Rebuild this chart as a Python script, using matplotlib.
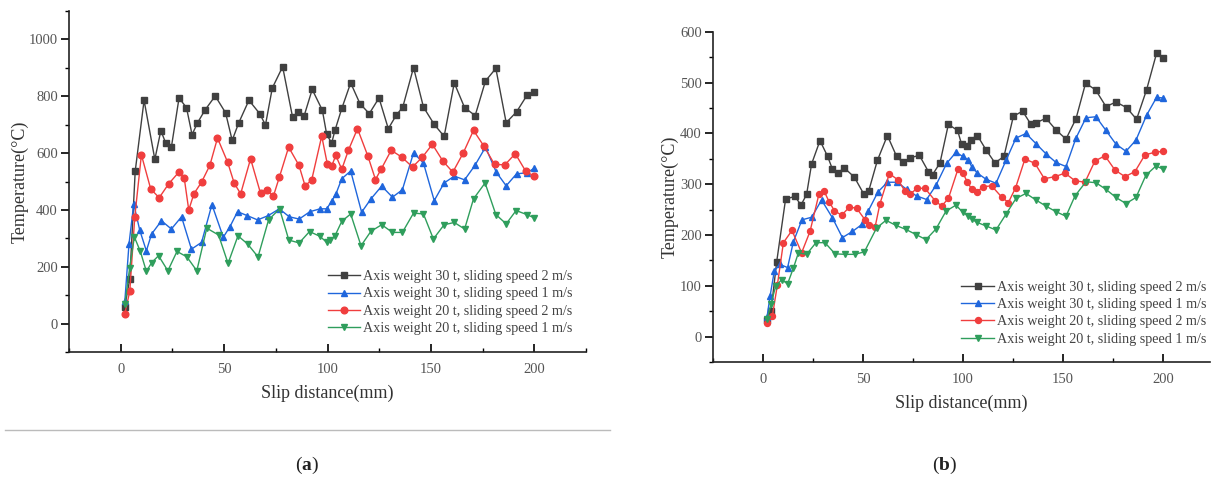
import matplotlib
matplotlib.use("Agg")
import matplotlib.pyplot as plt
from matplotlib.lines import Line2D
from matplotlib.ticker import MultipleLocator

plt.rcParams['font.family'] = ['Liberation Serif', 'DejaVu Serif']
plt.rcParams['mathtext.fontset'] = 'custom'
plt.rcParams['mathtext.rm'] = 'Liberation Serif'
plt.rcParams['mathtext.bf'] = 'Liberation Serif:bold'

labels = ["Axis weight 30 t, sliding speed 2 m/s",
          "Axis weight 30 t, sliding speed 1 m/s",
          "Axis weight 20 t, sliding speed 2 m/s",
          "Axis weight 20 t, sliding speed 1 m/s"]

# panel (a)
a_x_30_2 = [2, 4.4, 7, 11.3, 16.5, 19.4, 21.8, 24.5, 28.2, 31.8, 34.5, 37.1, 40.7, 45.7, 50.7, 53.9, 57.1,
            62, 67.2, 70, 73.3, 78.3, 83.1, 85.9, 88.6, 92.6, 97.5, 99.6, 102, 103.6, 106.9, 111.2, 115.7,
            120.2, 124.9, 129.4, 133.2, 136.4, 141.6, 146.4, 151.6, 156.4, 161.3, 166.3, 171.4, 176.4,
            181.4, 186.4, 191.4, 196.5, 200]
a_y_30_2 = [60, 158, 536, 786, 578, 679, 635, 621, 794, 760, 665, 706, 751, 801, 742, 645, 707,
            786, 739, 699, 829, 904, 727, 745, 729, 824, 751, 666, 635, 680, 757, 847, 774,
            739, 794, 686, 733, 762, 901, 762, 701, 659, 847, 760, 732, 854,
            898, 707, 745, 804, 814]
a_x_30_1 = [2, 4, 6.3, 9.2, 12.4, 14.9, 19.7, 24.5, 29.4, 34.2, 39.1, 44.1, 49.6, 52.8, 56.5, 61.2,
            66.2, 71.3, 76.7, 81.5, 86.3, 91.5, 96.4, 99.6, 102, 104.1, 106.9, 111.2, 116.5, 121,
            126.2, 131.4, 136.2, 141.6, 146.4, 151.6, 156.4, 161.3, 166.3, 171.3, 176.4, 181.6,
            186.4, 191.4, 196.5, 200]
a_y_30_1 = [80, 280, 421, 329, 256, 315, 362, 333, 376, 262, 286, 419, 304, 341, 394, 380,
            365, 380, 404, 376, 368, 394, 404, 404, 431, 457, 510, 537, 392, 439,
            484, 445, 471, 601, 565, 433, 495, 519, 506, 557, 621, 533,
            485, 527, 531, 547]
a_x_20_2 = [2, 4.4, 6.8, 10, 14.5, 18.6, 23.2, 28.1, 30.7, 32.9, 35.4, 39.1, 43.1, 46.8, 51.7, 54.9,
            58, 62.8, 67.6, 70.5, 73.8, 76.7, 81.2, 86.2, 89.1, 92.3, 97.2, 99.9, 102, 104, 106.9,
            110.1, 114.5, 119.5, 123.2, 125.9, 130.8, 135.9, 141.1, 145.9, 150.7, 155.8, 160.6,
            165.6, 170.6, 175.6, 180.8, 185.8, 190.8, 195.8, 200]
a_y_20_2 = [35, 115, 376, 594, 474, 443, 492, 533, 513, 400, 457, 498, 557, 653, 568, 494,
            457, 580, 459, 471, 448, 515, 621, 557, 486, 504, 660, 562, 554, 592, 543,
            610, 686, 590, 507, 543, 610, 586, 551, 586, 631, 572, 533,
            600, 680, 625, 560, 559, 598, 537, 518]
a_x_20_1 = [2, 4.3, 6.6, 9.5, 12.4, 15, 18.3, 22.8, 27.2, 32, 36.8, 41.6, 47.3, 51.9, 56.7, 61.4,
            66.4, 71.5, 76.8, 81.3, 86.3, 91.3, 96.4, 99.6, 101.2, 103.6, 106.9, 111.2, 116.2, 121,
            126.2, 131.4, 136.2, 141.6, 146.4, 151.2, 156.4, 161.3, 166.3, 170.6, 176.2, 181.4,
            186.4, 191.2, 196.3, 200]
a_y_20_1 = [68, 195, 305, 254, 184, 215, 239, 186, 254, 235, 186, 336, 312, 212, 309, 280,
            235, 365, 404, 294, 284, 324, 307, 286, 294, 309, 360, 386, 274, 325,
            348, 321, 321, 389, 386, 298, 348, 356, 333, 439, 495, 384,
            351, 398, 384, 372]

# panel (b)
b_x_30_2 = [2, 4, 6.8, 11.3, 16, 19, 21.8, 24.3, 28.5, 32.3, 34.7, 37.3, 40.7, 45.7, 50.5, 52.8,
            57.2, 62.2, 66.8, 69.8, 73.5, 78.2, 82.7, 84.8, 88.5, 92.7, 97.3, 99.3, 101.8, 103.8,
            107.2, 111.5, 116, 120.5, 125.2, 129.8, 133.8, 136.5, 141.5, 146.5, 151.5, 156.5,
            161.3, 166.3, 171.5, 176.5, 181.8, 186.8, 191.8, 196.8, 200]
b_y_30_2 = [32, 50, 146, 271, 276, 259, 280, 340, 386, 355, 330, 322, 332, 314, 280, 286,
            347, 396, 355, 343, 352, 357, 325, 319, 342, 418, 406, 379, 375, 388,
            396, 368, 342, 355, 434, 444, 419, 421, 430, 407, 389, 429,
            499, 486, 453, 462, 451, 428, 486, 558, 549]
b_x_30_1 = [2, 3.5, 5.7, 8.5, 12.3, 15.2, 19.5, 24.3, 29.3, 34.7, 39.7, 44.7, 49.5, 52.7, 57.5,
            62.2, 67.2, 71.8, 76.8, 81.8, 86.5, 91.8, 96.5, 99.8, 102.7, 104.3, 107.2, 111.5,
            116.5, 121.5, 126.5, 131.5, 136.5, 141.5, 146.5, 151.5, 156.5, 161.5, 166.5, 171.5,
            176.5, 181.5, 186.5, 191.8, 196.8, 200]
b_y_30_1 = [38, 79, 130, 142, 136, 187, 230, 235, 269, 234, 195, 207, 221, 248, 285,
            304, 304, 290, 277, 270, 298, 341, 363, 355, 348, 335, 322, 310,
            302, 347, 391, 400, 380, 360, 343, 335, 391, 431, 433, 406,
            379, 365, 387, 436, 471, 470]
b_x_20_2 = [2, 4.7, 7.2, 10.2, 14.5, 19.3, 23.5, 28, 30.5, 33, 35.7, 39.3, 43.2, 46.8, 51, 53.2,
            56, 58.5, 63.2, 67.7, 71, 73.5, 77.2, 81, 86, 89.3, 92.7, 97.5, 100, 102.2, 104.3,
            107.2, 109.8, 114.3, 119.3, 122.7, 126.3, 131, 136, 140.7, 146, 151, 156, 161, 166,
            171, 176, 181, 186, 191, 196, 200]
b_y_20_2 = [26, 41, 102, 185, 209, 165, 207, 281, 287, 266, 248, 239, 255, 253, 230, 220,
            215, 262, 321, 308, 286, 281, 292, 292, 268, 257, 272, 330, 322, 304, 291,
            285, 295, 297, 275, 264, 293, 350, 341, 311, 315, 322, 307, 304, 346,
            356, 328, 315, 325, 358, 363, 365]
b_x_20_1 = [2, 4, 6.3, 9.3, 12.3, 15.2, 17.7, 21.8, 26.5, 31, 36, 41, 46, 50.7, 56.8, 61.5,
            66.5, 71.5, 76.5, 81.5, 86.5, 91.5, 96.5, 99.8, 102.5, 104.5, 107, 111.5, 116.5,
            121.5, 126.5, 131.5, 136.5, 141.5, 146.5, 151.5, 156, 161.5, 166.5, 171.5, 176.5,
            181.5, 186.5, 191.5, 196.5, 200]
b_y_20_1 = [34, 64, 99, 112, 104, 135, 165, 162, 185, 185, 163, 162, 162, 167, 214, 229,
            219, 211, 201, 191, 212, 247, 259, 245, 238, 231, 225, 218, 210,
            241, 272, 282, 269, 257, 246, 237, 277, 305, 303, 290, 274,
            262, 274, 318, 336, 330]

colors = ["#404040", "#1f66dc", "#f03e3e", "#2f9e5c"]
markers = ["s", "^", "o", "v"]


def draw_panel(ax, series, ylim, ymajor, ms, label_x, legend_y):
    for (x, y), c, m, lab in zip(series, colors, markers, labels):
        ax.plot(x, y, color=c, marker=m, markersize=ms, linewidth=1.0, label=lab)
    ax.set_xlim(-25, 225)
    ax.set_ylim(*ylim)
    ax.spines['top'].set_visible(False)
    ax.spines['right'].set_visible(False)
    for s in ['left', 'bottom']:
        ax.spines[s].set_linewidth(1.2)
        ax.spines[s].set_color("#222222")
    ax.xaxis.set_major_locator(MultipleLocator(50))
    ax.xaxis.set_minor_locator(MultipleLocator(25))
    ax.yaxis.set_major_locator(MultipleLocator(ymajor))
    ax.yaxis.set_minor_locator(MultipleLocator(ymajor / 2))
    ax.tick_params(axis='x', which='major', direction='in', length=6, width=1.2,
                   labelsize=10.5, labelcolor="#555555", pad=8)
    ax.tick_params(axis='x', which='minor', direction='in', length=3, width=1.0)
    ax.tick_params(axis='y', which='major', direction='out', length=6, width=1.2,
                   labelsize=10.5, labelcolor="#555555", pad=2)
    ax.tick_params(axis='y', which='minor', direction='out', length=3, width=1.0)
    ax.set_xlabel("Slip distance(mm)", fontsize=13, color="#333333", labelpad=6)
    ax.set_ylabel("Temperature(°C)", fontsize=13, color="#333333")
    ax.yaxis.set_label_coords(label_x, 0.5)
    ax.legend(loc='upper left', bbox_to_anchor=(0.5, legend_y), frameon=False,
              fontsize=10.2, handlelength=2.3, handletextpad=0.2, labelspacing=0.3,
              borderpad=0, borderaxespad=0, labelcolor="#444444")


fig = plt.figure(figsize=(12.13, 4.79), dpi=100)
ax1 = fig.add_axes([0.0569, 0.265, 0.4262, 0.712])
ax2 = fig.add_axes([0.5878, 0.2443, 0.4097, 0.689])

draw_panel(ax1, [(a_x_30_2, a_y_30_2), (a_x_30_1, a_y_30_1), (a_x_20_2, a_y_20_2),
                 (a_x_20_1, a_y_20_1)], (-100, 1100), 200, 4.8, -0.078, 0.24)
draw_panel(ax2, [(b_x_30_2, b_y_30_2), (b_x_30_1, b_y_30_1), (b_x_20_2, b_y_20_2),
                 (b_x_20_1, b_y_20_1)], (-50, 600), 100, 4.3, -0.070, 0.246)
ax2.set_xlim(-25, 223.5)

# separator under panel (a) and panel letters
fig.add_artist(Line2D([0.004, 0.503], [0.102, 0.102], color="#bbbbbb", linewidth=1.0))
fig.text(0.253, 0.018, r"($\mathbf{a}$)", fontsize=14, ha='center', color="#222222")
fig.text(0.779, 0.018, r"($\mathbf{b}$)", fontsize=14, ha='center', color="#222222")

fig.savefig("out.png", dpi=100)
